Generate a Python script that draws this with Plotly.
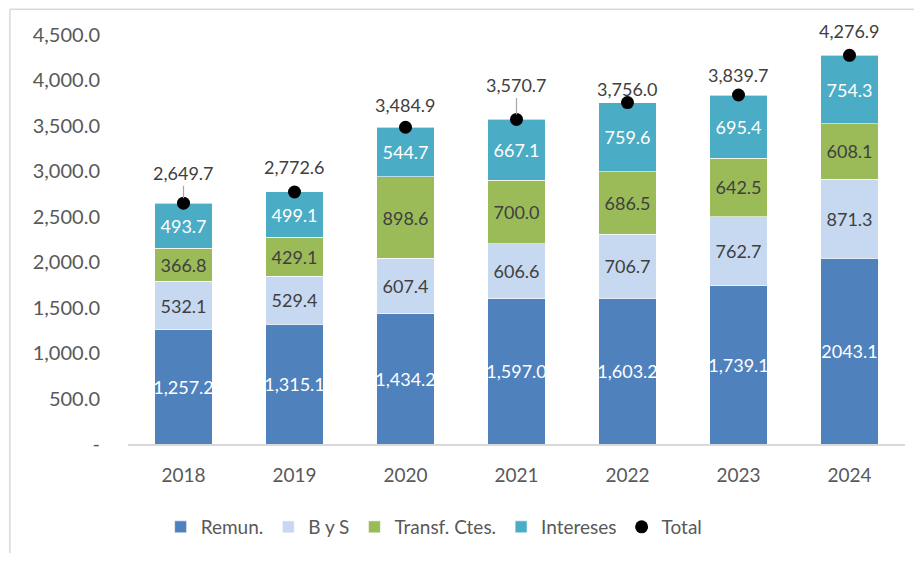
import plotly.graph_objects as go


# ==========================
# DATA
# ==========================

years = ["2018", "2019", "2020", "2021", "2022", "2023", "2024"]

remun = [1257.2, 1315.1, 1434.2, 1597.0, 1603.2, 1739.1, 2043.1]
remun_labels = ["1,257.2", "1,315.1", "1,434.2", "1,597.0", "1,603.2", "1,739.1", "2043.1"]
bys = [532.1, 529.4, 607.4, 606.6, 706.7, 762.7, 871.3]
transf = [366.8, 429.1, 898.6, 700.0, 686.5, 642.5, 608.1]
intereses = [493.7, 499.1, 544.7, 667.1, 759.6, 695.4, 754.3]
total = [2649.7, 2772.6, 3484.9, 3570.7, 3756.0, 3839.7, 4276.9]

y_ticks = [0, 500, 1000, 1500, 2000, 2500, 3000, 3500, 4000, 4500]
y_tick_text = ["-", "500.0", "1,000.0", "1,500.0", "2,000.0", "2,500.0",
               "3,000.0", "3,500.0", "4,000.0", "4,500.0"]


# ==========================
# STYLE
# ==========================

FONT = "Lato"
DARK = "#404040"
GRAY = "#595959"

# pixel offsets of the total labels above their markers (as placed in the source)
label_shift = [30, 25, 22, 34, 14, 20, 24]
label_leader = [True, False, False, True, False, False, False]


def segment(name, values, labels, color, text_color):

    return go.Bar(
        name=name,
        x=years,
        y=values,
        text=labels,
        textposition="inside",
        insidetextanchor="middle",
        constraintext="none",
        textangle=0,
        textfont=dict(family=FONT, size=18, color=text_color),
        marker=dict(color=color, line=dict(color="white", width=0.6)),
        hoverinfo="name+y"
    )


fig = go.Figure()

fig.add_trace(segment("Remun.", remun, remun_labels, "#4F81BD", "white"))
fig.add_trace(segment("B y S", bys, [f"{v:,.1f}" for v in bys], "#C6D9F1", DARK))
fig.add_trace(segment("Transf. Ctes.", transf, [f"{v:,.1f}" for v in transf], "#9BBB59", DARK))
fig.add_trace(segment("Intereses", intereses, [f"{v:,.1f}" for v in intereses], "#4BACC6", "white"))

fig.add_trace(
    go.Scatter(
        name="Total",
        x=years,
        y=total,
        mode="markers",
        marker=dict(color="black", size=13),
        hoverinfo="name+y"
    )
)


# total labels (x given as category index so "2018" is not read as a position)
for i, (val, shift, leader) in enumerate(zip(total, label_shift, label_leader)):

    if leader:
        fig.add_annotation(
            x=i, y=val,
            text=f"{val:,.1f}",
            showarrow=True,
            arrowhead=0,
            arrowwidth=1.2,
            arrowcolor="#a6a6a6",
            ax=0, ay=-shift,
            standoff=5,
            font=dict(family=FONT, size=18, color=DARK)
        )
    else:
        fig.add_annotation(
            x=i, y=val,
            text=f"{val:,.1f}",
            showarrow=False,
            yshift=shift,
            font=dict(family=FONT, size=18, color=DARK)
        )


# outer chart frame (top and left edges visible in the source)
fig.add_shape(type="line", xref="paper", yref="paper",
              x0=-0.152, x1=1.1, y0=1.063, y1=1.063,
              line=dict(color="#d9d9d9", width=1.5))
fig.add_shape(type="line", xref="paper", yref="paper",
              x0=-0.152, x1=-0.152, y0=1.063, y1=-0.3,
              line=dict(color="#d9d9d9", width=1.5))


# the page body keeps its default 8px margin, so the figure is sized to fit inside it
fig.update_layout(
    width=906,
    height=545,
    barmode="stack",
    bargap=0.48,
    plot_bgcolor="white",
    paper_bgcolor="white",
    font=dict(family=FONT, color=GRAY),
    margin=dict(l=120, r=8.5, t=27, b=108),
    showlegend=True,
    legend=dict(
        orientation="h",
        x=0.042,
        xanchor="left",
        y=-0.2,
        yanchor="middle",
        itemwidth=30,
        traceorder="normal",
        font=dict(family=FONT, size=19, color=GRAY)
    )
)

fig.update_xaxes(
    type="category",
    range=[-0.5, len(years) - 0.5],
    showgrid=False,
    showline=True,
    linecolor="#d9d9d9",
    linewidth=1.5,
    ticks="",
    ticklabelstandoff=13,
    tickfont=dict(family=FONT, size=19, color=GRAY)
)

fig.update_yaxes(
    range=[0, 4500],
    tickvals=y_ticks,
    ticktext=y_tick_text,
    showgrid=False,
    zeroline=False,
    showline=False,
    ticks="",
    ticklabelstandoff=27,
    tickfont=dict(family=FONT, size=20, color=GRAY)
)

fig.write_html("out.html")
